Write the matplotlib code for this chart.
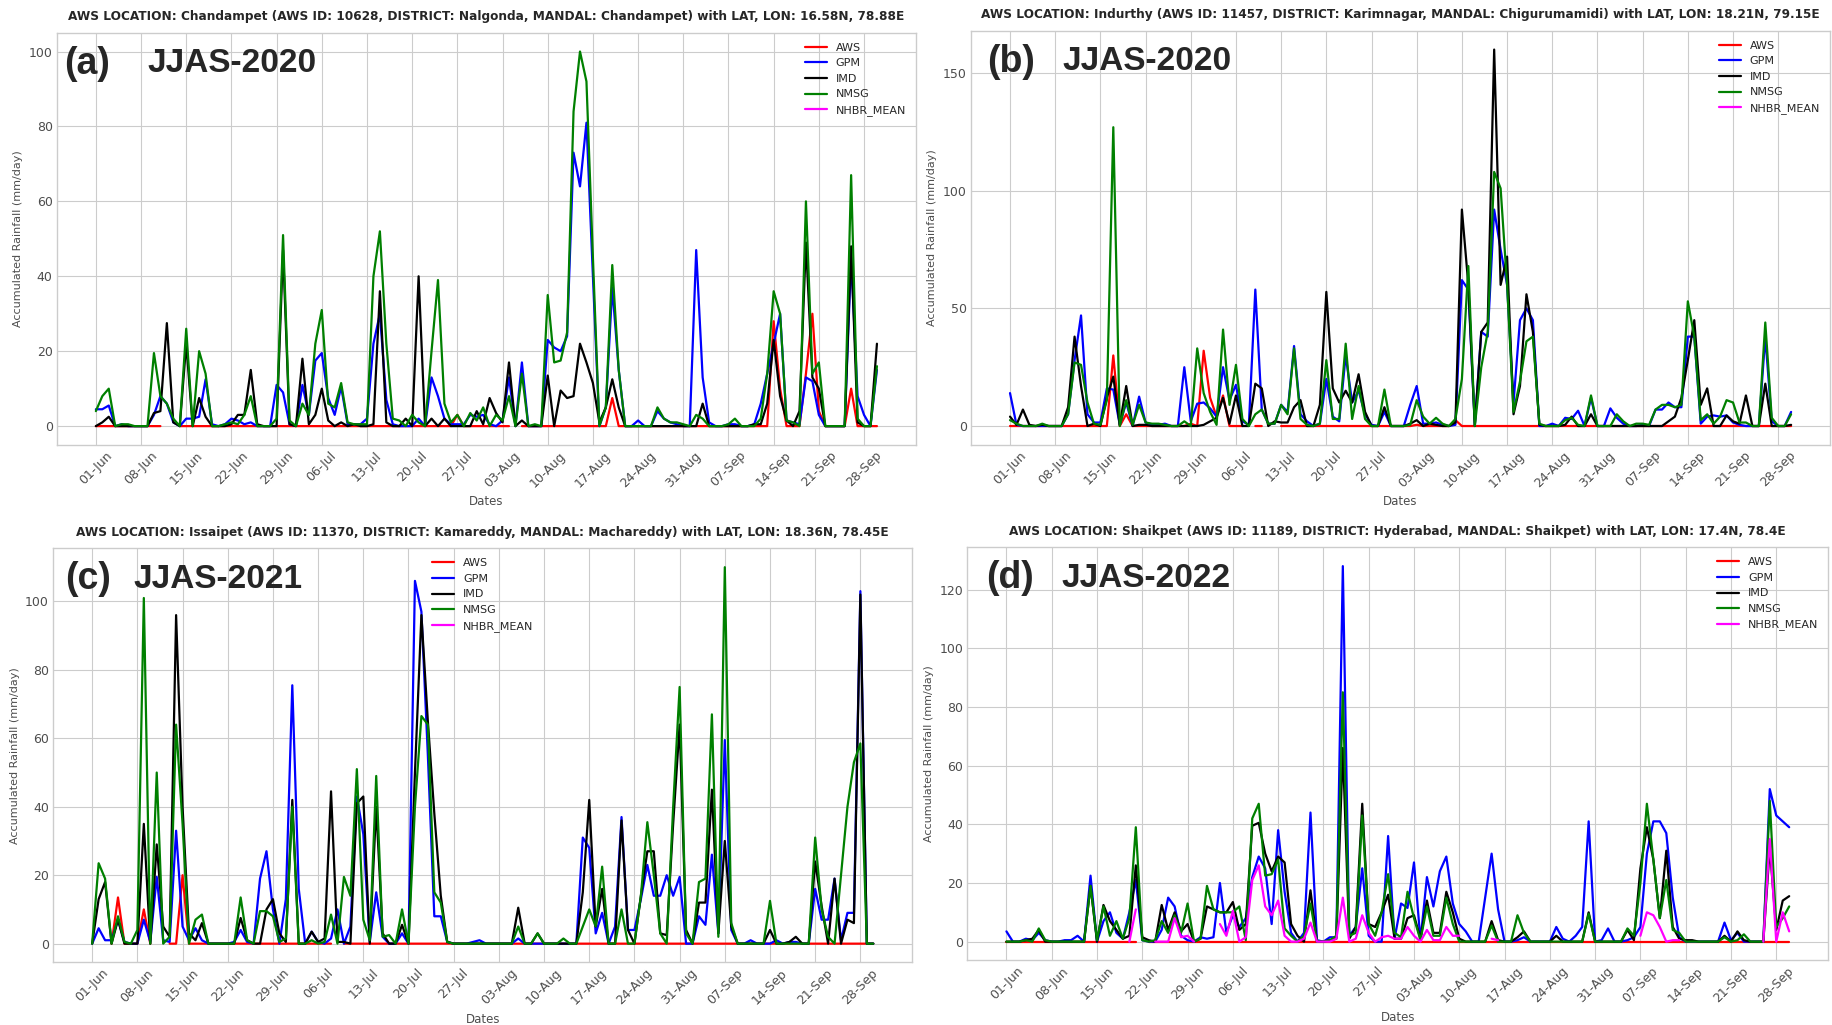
import numpy as np
import pandas as pd
import matplotlib
matplotlib.use('Agg')
import matplotlib.pyplot as plt
import matplotlib.dates as mdates
from matplotlib.ticker import MultipleLocator

nan = np.nan

# ---------------- data (daily, 01-Jun .. 30-Sep, one row per week) ----------------
series_names = ['AWS', 'GPM', 'IMD', 'NMSG', 'NHBR_MEAN']
series_colors = ['red', 'blue', 'black', 'green', 'magenta']

titles = [
    'AWS LOCATION: Chandampet (AWS ID: 10628, DISTRICT: Nalgonda, MANDAL: Chandampet) with LAT, LON: 16.58N, 78.88E',
    'AWS LOCATION: Indurthy (AWS ID: 11457, DISTRICT: Karimnagar, MANDAL: Chigurumamidi) with LAT, LON: 18.21N, 79.15E',
    'AWS LOCATION: Issaipet (AWS ID: 11370, DISTRICT: Kamareddy, MANDAL: Machareddy) with LAT, LON: 18.36N, 78.45E',
    'AWS LOCATION: Shaikpet (AWS ID: 11189, DISTRICT: Hyderabad, MANDAL: Shaikpet) with LAT, LON: 17.4N, 78.4E',
]
tags = ['(a)', '(b)', '(c)', '(d)']
seasons = ['JJAS-2020', 'JJAS-2020', 'JJAS-2021', 'JJAS-2022']
years = [2020, 2020, 2021, 2022]
ytick_steps = [20, 50, 20, 20]

# panel (a)
aws_a = [0, 0, 0, 0, 0, 0, 0,
         0, 0, 0, 0, nan, nan, 0,
         0, 0, 0, 0, 0, 0, 0,
         0, 0, 0, 0, 0, 0, 0,
         0, 0, 0, 0, 0, 0, 0,
         0, 0, 0, 0, 0, 0, 0,
         0, 0, 0, 0, 0, 0, 0,
         0, 0, 0, 0, 0, 0, 0,
         3, 0, 0, 0, 0, 0, 0,
         0, 0, nan, 0, 0, 0, 0,
         0, 0, 0, 0, 0, 0, 0,
         0, 0, 0, 7.5, 0, 0, 0,
         0, 0, 0, 0, 0, 0, 0,
         0, 0, 0, 0, 0, 0, 0,
         0, 0, 0, 0, 0, 0, 0,
         28, 10, 0, 0, 0, 14, 30,
         4, 0, 0, 0, 0, 10, 0,
         0, 0, 0]
gpm_a = [4.5, 4.5, 5.5, 0, 0.5, 0, 0,
         0, 0, 3, 8, 6, 1, 0,
         2, 2, 2.5, 12.5, 0.5, 0, 0.5,
         2, 1.5, 0.5, 1, 0, 0, 0,
         11, 9, 0.5, 0, 11, 3, 17.5,
         19.5, 7.5, 3, 10.5, 0.5, 0.5, 0.5,
         2, 22, 30, 7, 0.5, 0, 0,
         0, 2, 0, 13, 8, 2, 0.5,
         0.5, 0.5, 3, 2.5, 3, 0.5, 0,
         1.5, 13, 0, 17, 0, 0, 0,
         23, 21, 20, 24, 73, 64, 81,
         40, 0, 5, 37, 15, 0, 0,
         1.5, 0, 0, 4, 2, 1, 0.5,
         0, 0, 47, 13, 1, 0, 0,
         0.5, 0.5, 0, 0, 0.5, 6, 14,
         22, 30, 1.5, 1, 0.5, 13, 12,
         3, 0, 0, 0, 0, 45, 8,
         3, 0, 15]
imd_a = [0, 1, 2.5, 0, 0, 0, 0,
         0, 0, 3.5, 4, 27.5, 1, 0,
         22, 0, 7.5, 2.5, 0, 0, 0,
         0.5, 3, 3, 15, 0.5, 0, 0,
         0, 47, 0.5, 0, 18, 0.5, 3,
         10, 1.5, 0, 1, 0, 0.5, 0,
         0, 0.5, 36, 1, 0, 0, 2,
         0, 40, 0, 2, 0, 2, 0,
         0, 0, 0, 4, 0.5, 7.5, 3.5,
         1, 17, 0, 1.5, 0, 0, 0,
         13.5, 0, 9.5, 7.5, 8, 22, 17,
         11.5, 1, 5, 12.5, 5, 0, 0,
         0, 0, 0, 0, 0, 0, 0,
         0, 0, 0, 6, 0, 0, 0,
         0, 0, 0, 0, 0.5, 0.5, 6,
         23, 8, 1.5, 0, 4, 49, 13,
         10, 0, 0, 0, 0, 48, 1,
         0, 0, 22]
nmsg_a = [4, 8, 10, 0, 0.5, 0.5, 0,
          0, 0, 19.5, 8, 6, 2, 0,
          26, 0, 20, 14, 0, 0, 0.5,
          1, 0.5, 3, 8, 0, 0, 0,
          2, 51, 1.5, 0, 6, 3, 22,
          31, 6, 5, 11.5, 1, 0.5, 0.5,
          0.5, 40, 52, 22, 2, 1.5, 0,
          3, 1, 0, 20, 39, 6, 1,
          3, 0, 3.5, 1.5, 5, 0, 3,
          1.5, 8, 0, 14, 0, 0.5, 0,
          35, 17, 17.5, 25, 84, 100, 92,
          45, 0, 5, 43, 15, 0, 0,
          0, 0, 0, 5, 2, 1, 1,
          0.5, 0, 3, 2, 0, 0, 0,
          0.5, 2, 0, 0, 0, 2, 14,
          36, 30, 1.5, 1, 0, 60, 14,
          17, 0, 0, 0, 0, 67, 2,
          0, 0, 16]

# panel (b)
aws_b = [0, 0, 0, 0, 0, 0, 0,
         0, 0, 0, 0, 0, 0, 0,
         0, 0, 30, 0, 5, 0, 0,
         0, 0, 0, 0, 0, 0, 0,
         1, 0, 32, 12, 4, 13, 0,
         0, 0, nan, 0, 0, nan, nan,
         0, 0, 0, 0, 0, 0, 0,
         0, 0, 0, 0, 0, 0, 0,
         0, 0, 0, 0, 0, 0, 0,
         0.5, 0, 0, 0, 0, 0, 2.5,
         0, 0, 0, 0, 0, 0, 0,
         0, 0, 0, 0, 0, 0, 0,
         0, 0, 0, 0, 0, 0, 0,
         0, 0, 0, 0, 0, 0, 0,
         0, 0, 0, 0, 0, 0, 0,
         0, 0, 0, 0, 0, 0, 0,
         0, 0, 0, 0, 0, 0, 0,
         0, 0, 0]
gpm_b = [14, 0.5, 0, 0, 0, 0, 0,
         0, 0, 5, 28, 47, 5, 1.5,
         1.5, 16, 15.5, 0.5, 10, 0, 12.5,
         1.5, 0.5, 0.5, 1, 0, 0, 25,
         2, 9.5, 10, 7.5, 4, 25, 11,
         17.5, 2, 0.5, 58, 7, 1, 1,
         9, 6, 34, 5, 2, 0, 1,
         20, 4, 2, 30, 10, 15, 5,
         0.5, 0, 6, 0, 0, 0, 9,
         17, 1, 1, 1.5, 0.5, 0, 0.5,
         62, 58, 0.5, 40, 38, 92, 75,
         60, 10, 45, 50, 45, 0, 0,
         1, 0, 3.5, 3, 6.5, 0, 12,
         0, 0, 7.5, 3.5, 1, 0, 0,
         0.5, 0, 7, 7, 10, 8, 8,
         38, 38, 1, 4, 4.5, 4, 4.5,
         1.5, 0.5, 0, 0, 0, 38, 2,
         0, 0, 6]
imd_b = [4, 0.5, 7, 0.5, 0, 0.5, 0,
         0, 0, 8, 38, 17, 0, 1,
         0, 12, 21, 0.5, 17, 0, 0.5,
         0.5, 0, 0, 0, 0, 0, 0,
         0, 0, 0.5, 2, 3.5, 12, 1,
         13, 0, 0, 18, 16, 0, 2,
         1.5, 1.5, 8, 11, 0, 0, 9,
         57, 16, 10, 15, 10, 22, 6,
         0, 0, 8, 0, 0, 0, 1,
         2.5, 0, 1, 0.5, 0, 0, 1.5,
         92, 60, 0, 40, 44, 160, 60,
         72, 5, 17, 56, 40, 0.5, 0,
         0, 0, 0.5, 4, 0, 0, 5,
         0, 0, 0, 0, 0, 0, 0,
         0, 0, 0, 0, 2, 4, 12,
         28, 45, 9, 16, 0, 0, 4.5,
         2, 1, 13, 0, 0, 18, 0,
         0, 0, 0.5]
nmsg_b = [2.5, 1, 0, 0, 0, 1, 0,
          0, 0, 5, 27, 26, 10, 1,
          0.5, 11, 127, 0, 11, 0.5, 9,
          1.5, 1, 1, 0.5, 0, 0, 2,
          0, 33, 14, 6, 0.5, 41, 9,
          26, 3, 0, 5, 7, 1, 1,
          9, 5, 33, 3, 0.5, 0, 1,
          28, 3, 3, 35, 3, 17, 3,
          0, 0, 15.5, 0, 0, 0, 0.5,
          11, 4, 1, 3.5, 1, 0, 3,
          20, 68, 0, 25, 40, 108, 101,
          60, 6, 19, 36, 38, 1, 0,
          0, 0, 2.5, 3.5, 0.5, 0, 13,
          0, 0, 0, 5, 2, 0, 1,
          1, 0.5, 7, 9, 9, 8, 9,
          53, 38, 2.5, 5, 1, 4, 11,
          10, 1.5, 1.5, 0, 0, 44, 3.5,
          0, 0, 5]

# panel (c)
aws_c = [nan, nan, nan, 0, 13.5, 0, 0,
         0, 10, 0, nan, nan, 0, 0,
         20, 0, 0, 0, 0, 0, 0,
         0, 0, 0, 0, 0, 0, 0,
         0, 0, 0, 0, 0, 0, 0,
         0, 0, 0, nan, 0, 0, 0,
         0, 0, 0, 0, 0, 0, 0,
         0, 0, 0, 0, 0, 0, 0,
         0, 0, 0, 0, 0, 0, 0,
         0, 0, 0, 0, 0, 0, 0,
         0, 0, 0, 0, 0, 0, 0,
         0, 0, 0, 0, 0, 0, 0,
         0, 0, 0, 0, 0, 0, 0,
         0, 0, 0, 0, 0, 0, 0,
         0, 0, 0, 0, 0, 0, 0,
         0, 0, 0, 0, 0, 0, 0,
         0, 0, 0, 0, 0, 0, 0,
         0, 0, 0]
gpm_c = [0, 4.5, 1, 1, 7, 0.5, 0,
         0, 7, 0.5, 19.5, 1, 0.5, 33,
         5, 1, 4.5, 1, 0, 0, 0,
         0, 0.5, 4, 0.5, 0, 19, 27,
         10, 0, 13, 75.5, 16, 0, 3.5,
         0.5, 0, 1.5, 10, 0, 5, 43,
         32, 0.5, 15, 2, 0, 0, 3,
         0, 106, 97, 55, 8, 8, 0.5,
         0, 0, 0, 0.5, 1, 0, 0,
         0, 0, 0, 1.5, 0, 0, 0,
         0, 0, 0, 0, 0, 0, 31,
         28, 3, 9, 0, 5, 37, 4,
         4, 13, 23, 14, 14, 20, 14,
         19.5, 0, 0, 8, 5.5, 26, 3,
         59.5, 4, 0, 0, 1, 0, 0,
         0, 1, 0, 0.5, 0.5, 0, 0,
         16, 7, 7, 19, 1, 9, 9,
         103, 0, 0]
imd_c = [0, 13, 18, 0, 7, 0, 0,
         0, 35, 0, 29, 5, 2, 96,
         40, 3, 1, 6, 0, 0, 0,
         0, 0, 7.5, 1, 0, 0, 10,
         13, 3, 0.5, 42, 0, 0, 3.5,
         0.5, 1.5, 44.5, 0.5, 0.5, 0, 41,
         43, 0, 40, 3, 0, 0, 5.5,
         0, 50, 96, 65, 38, 14, 0.5,
         0, 0, 0, 0, 0, 0, 0,
         0, 0, 0, 10.5, 0, 0, 3,
         0, 0, 0, 0, 0, 0, 15,
         42, 5, 16, 0, 0, 36, 4,
         0, 14, 27, 27, 3, 2.5, 35,
         64, 4, 0, 12, 12, 45, 3,
         30, 5, 0, 0, 0, 0, 0,
         4, 0, 0, 0.5, 2, 0, 0,
         24, 11, 0, 19, 0, 7, 6,
         102, 0, 0]
nmsg_c = [0, 23.5, 19, 0, 8, 0.5, 0,
          4, 101, 0, 50, 0, 2, 64,
          35, 0, 7, 8.5, 0, 0, 0,
          0, 0, 13.5, 1, 0, 9.5, 9.5,
          8, 0.5, 1.5, 40, 0, 0, 1,
          0, 0.5, 8.5, 0, 19.5, 14, 51,
          7, 1, 49, 2, 2.5, 0, 10,
          0, 40, 66.5, 64, 15, 12, 0.5,
          0, 0, 0, 0, 0, 0, 0,
          0, 0, 0, 5, 0, 0, 3,
          0, 0, 0, 1.5, 0, 0, 5,
          10, 5, 22.5, 0, 0, 10, 0,
          0, 14, 35.5, 20, 3, 0, 40,
          75, 3, 0, 18, 19, 67, 2,
          110, 6, 0, 0, 0, 0, 0,
          12.5, 0, 0, 0, 0, 0, 0,
          31, 10, 2, 0, 20, 40, 53,
          58.5, 0, 0]

# panel (d)
aws_d = [0, 0, 0, 0, 0, 0, 0,
         0, 0, 0, 0, 0, 0, 0,
         0, 0, 0, 0, 0, 0, 0,
         nan, 0, 0, 0, 0, 0, 0,
         0, 0, 0, 0, 0, 0, 0,
         0, 0, 0, 0, 0, 0, 0,
         0, 0, 0, 0, 0, 0, 0,
         0, 0, 0, 0, 0, 0, 0,
         0, 0, 0, 0, 0, 0, 0,
         0, 0, 0, 0, 0, 0, 0,
         0, 0, 0, 0, 0, 0, 0,
         0, 0, 0, 0, 0, 0, 0,
         0, 0, 0, 0, 0, 0, 0,
         0, 0, 0, 0, 0, 0, 0,
         0, 0, 0, 0, 0, 0, 0,
         0, 0, 0, 0, 0, 0, 0,
         0, 0, 0, 0, 0, 0, 0,
         0, 0, 0]
gpm_d = [3.5, 0, 0, 1, 0.5, 3, 0.5,
         0, 0, 0.5, 0.5, 2, 0, 22.5,
         0, 7, 10, 3, 1, 10, 21,
         0.5, 0, 0, 4, 15, 12, 2,
         0.5, 0, 1.5, 1, 1.5, 20, 3,
         9, 5, 8, 22, 29, 25, 6,
         38, 17, 3, 0, 3, 44, 0.5,
         0, 1.5, 1.5, 128, 2, 5, 25,
         2, 0, 0, 36, 1, 13, 11.5,
         27, 0.5, 22, 12, 24, 29, 13,
         6, 3.5, 0, 0, 15, 30, 11,
         0, 0, 0.5, 1.5, 0, 0, 0,
         0, 5, 1, 0, 2, 5, 41,
         0, 0.5, 4.5, 0, 0, 0.5, 1.5,
         5, 30, 41, 41, 37, 15, 1.5,
         0, 0, 0, 0, 0, 0, 6.5,
         0.5, 3, 0, 0, 0, 0, 52,
         43, 41, 39]
imd_d = [0, 0, 0, 0.5, 1, 4, 0,
         0, 0, 0, 0, 0, 0, 19,
         0, 12.5, 7, 4, 1, 2, 26,
         1.5, 0.5, 0, 12.5, 4, 10, 3.5,
         6, 0, 1, 12, 11, 10, 10,
         13.5, 4, 6, 39.5, 40.5, 30, 24,
         29, 27, 6, 2, 0, 17.5, 0,
         0, 0.5, 1, 66, 1, 5, 47,
         6, 5, 10, 16, 1, 1, 8,
         9, 1, 14, 3, 3, 17, 10,
         1, 0, 0, 0, 0, 7, 0.5,
         0, 0, 1.5, 3.5, 0, 0, 0,
         0, 2, 0, 0, 0, 0, 10,
         0, 0, 0, 0, 0, 4, 0.5,
         25, 39, 28, 8, 31, 5, 1,
         0.5, 0.5, 0, 0, 0, 0, 2,
         0, 3.5, 0.5, 0, 0, 0, 32,
         4, 14, 15.5]
nmsg_d = [0, 0, 0, 0.5, 0, 4.5, 0.5,
          0, 0, 0, 0, 0, 0, 19,
          0.5, 12, 2, 7, 1, 8, 39,
          0.5, 0, 0.5, 7, 3, 9, 3,
          13, 0, 1, 19, 11, 10, 10,
          10, 12, 0.5, 42, 47, 22.5, 23,
          28, 4.5, 2, 0, 2, 13, 0,
          0, 0.5, 2, 85, 2, 3, 43,
          6, 2, 10, 23, 3, 1.5, 17,
          8, 0.5, 12, 2, 2, 15, 6,
          0, 0, 0, 0, 0, 5.5, 0,
          0, 0, 9, 3, 0, 0, 0,
          0, 0, 0, 0, 0, 0, 9.5,
          0, 0, 0, 0, 0, 4.5, 2,
          20, 47, 28, 8, 21, 4, 3,
          0, 0, 0, 0, 0, 0, 1.5,
          0, 0.5, 2.5, 0, 0, 0, 48,
          5, 8, 12]
nhbr_d = [nan, nan, nan, nan, nan, nan, nan,
          nan, nan, nan, nan, nan, nan, nan,
          nan, nan, nan, nan, nan, 0, 11,
          nan, nan, 0, 0, 0, 8, 1.5,
          2, 0, nan, nan, nan, 6, 2,
          10.5, 0, 1.5, 21, 26, 12, 9,
          14, 2, 0, 0, 1, 6.5, 0,
          0, 0, 1, 15, 0, 1, 9,
          3, 0, 1.5, 2, 1, 1, 5,
          2, 0, 4, 0.5, 0.5, 5, 2,
          2, nan, nan, nan, nan, 1, 0.5,
          nan, nan, nan, nan, nan, nan, nan,
          nan, nan, nan, nan, nan, nan, nan,
          nan, nan, nan, nan, nan, nan, nan,
          2, 10, 9, 5, 0, 0.5, 0.5,
          nan, nan, nan, nan, nan, nan, nan,
          nan, nan, nan, nan, nan, 0, 35,
          0, 10, 3.5]

panel_data = [
    [aws_a, gpm_a, imd_a, nmsg_a, None],
    [aws_b, gpm_b, imd_b, nmsg_b, None],
    [aws_c, gpm_c, imd_c, nmsg_c, None],
    [aws_d, gpm_d, imd_d, nmsg_d, nhbr_d],
]

# ---------------- layout ----------------
plt.style.use('seaborn-v0_8-whitegrid')
plt.rcParams['font.family'] = ['DejaVu Sans']

fig = plt.figure(figsize=(18.32, 10.25), dpi=100)
axes_rects = [
    [0.031, 0.566, 0.469, 0.402],
    [0.530, 0.566, 0.469, 0.404],
    [0.029, 0.061, 0.469, 0.404],
    [0.528, 0.063, 0.470, 0.403],
]
legend_locs = ['upper right', 'upper right', 'upper center', 'upper right']
tag_x = [0.009, 0.019, 0.014, 0.022]
season_x = [0.105, 0.106, 0.093, 0.109]

for k in range(4):
    ax = fig.add_axes(axes_rects[k])
    dates = pd.date_range(f'{years[k]}-06-01', f'{years[k]}-09-30', freq='D')

    for vals, name, color in zip(panel_data[k], series_names, series_colors):
        if vals is None:
            ax.plot([], [], color=color, lw=1.6, label=name)
        else:
            ax.plot(dates, vals, color=color, lw=1.6, label=name)

    ax.set_xticks(dates[::7])
    ax.xaxis.set_major_formatter(mdates.DateFormatter('%d-%b'))
    ax.yaxis.set_major_locator(MultipleLocator(ytick_steps[k]))
    plt.setp(ax.get_xticklabels(), rotation=45, fontsize=9)
    plt.setp(ax.get_yticklabels(), fontsize=9)
    ax.tick_params(axis='both', colors='0.3', pad=3)

    ax.set_xlabel('Dates', fontsize=8.5, color='0.3')
    ax.set_ylabel('Accumulated Rainfall (mm/day)', fontsize=8, color='0.3')
    ax.set_title(titles[k], fontsize=8.7, fontweight='bold', color='0.15', pad=9)

    ax.legend(loc=legend_locs[k], fontsize=8, frameon=False)

    ax.text(tag_x[k], 0.925, tags[k], transform=ax.transAxes, ha='left', va='center',
            fontsize=27, fontweight='bold', family='Liberation Sans')
    ax.text(season_x[k], 0.925, seasons[k], transform=ax.transAxes, ha='left', va='center',
            fontsize=24, fontweight='bold', family='Liberation Sans')

fig.savefig('out.png', dpi=100, facecolor='white')
